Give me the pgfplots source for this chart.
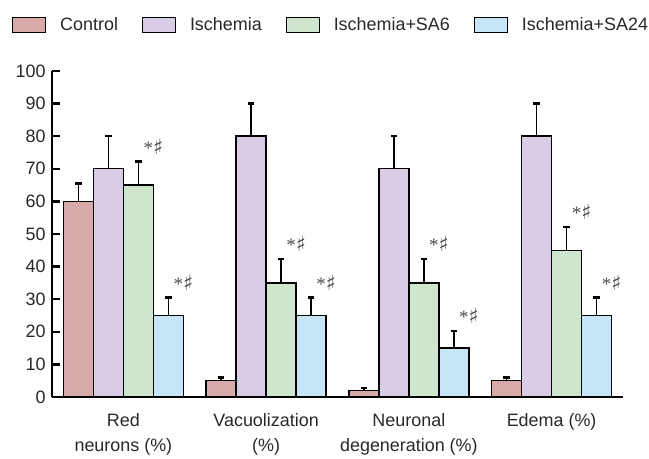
\documentclass[border=0pt]{standalone}
\usepackage{pgfplots}
\pgfplotsset{compat=1.18}
\usepackage{fontspec}
\setmainfont{Liberation Sans}
\newfontfamily\symfont{DejaVu Sans}
\newfontfamily\serfont{Liberation Serif}

\definecolor{cctrl}{RGB}{216,170,170}
\definecolor{cisch}{RGB}{216,204,230}
\definecolor{csa6}{RGB}{206,230,206}
\definecolor{csa24}{RGB}{198,230,247}
\definecolor{txt}{RGB}{40,40,40}

\pgfplotsset{
  boxleg/.style={legend image code/.code={%
      \draw[##1, line width=1bp] (0bp,-7.5bp) rectangle (33bp,7.5bp);}},
  errs/.style={error bars/.cd, y dir=plus, y explicit,
      error bar style={line width=1.5bp, black},
      error mark options={rotate=90, mark size=3.2bp, line width=2.6bp, black}},
}

\begin{document}
\begin{tikzpicture}
\begin{axis}[
  scale only axis,
  width=571bp, height=326bp,
  xmin=-0.5, xmax=3.5,
  ymin=0, ymax=100,
  ybar=0pt,
  bar width=0.21,
  axis lines=left,
  axis line style={-, line width=1.6bp, black},
  xtick={0,1,2,3},
  xticklabels={Red\\neurons (\%), Vacuolization\\(\%), Neuronal\\degeneration (\%), Edema (\%)},
  xticklabel style={align=center, font=\fontsize{18}{25}\selectfont, text=txt, yshift=-13bp},
  x tick style={draw=none},
  ytick={0,10,...,100},
  y tick style={line width=2.4bp, black},
  major tick length=8bp,
  tick align=inside,
  yticklabel style={font=\fontsize{18}{20}\selectfont, text=txt, xshift=-3bp},
  /pgf/number format/assume math mode=true,
  legend columns=4,
  legend style={at={(axis description cs:0,1)}, anchor=south west,
    xshift=-40bp, yshift=38bp, draw=none, fill=none, inner sep=0pt,
    font=\fontsize{18}{20}\selectfont, text=txt,
    nodes={inner sep=0pt},
    /tikz/every odd column/.append style={column sep=14bp},
    /tikz/every even column/.append style={column sep=24bp}},
  legend cell align=left,
]
\addplot[fill=cctrl, draw=black, line width=1.4bp, boxleg, errs] coordinates {
  (0,60) +- (0,5.5)
  (1,5) +- (0,1)
  (2,2) +- (0,0.8)
  (3,5) +- (0,1)
};
\addplot[fill=cisch, draw=black, line width=1.4bp, boxleg, errs] coordinates {
  (0,70) +- (0,10)
  (1,80) +- (0,10)
  (2,70) +- (0,10)
  (3,80) +- (0,10)
};
\addplot[fill=csa6, draw=black, line width=1.4bp, boxleg, errs] coordinates {
  (0,65) +- (0,7.3)
  (1,35) +- (0,7.3)
  (2,35) +- (0,7.3)
  (3,45) +- (0,7.2)
};
\addplot[fill=csa24, draw=black, line width=1.4bp, boxleg, errs] coordinates {
  (0,25) +- (0,5.5)
  (1,25) +- (0,5.5)
  (2,15) +- (0,5.3)
  (3,25) +- (0,5.5)
};
\legend{Control, Ischemia, Ischemia+SA6, Ischemia+SA24}
% significance marks above the error bars of SA6 and SA24
\addplot[forget plot, only marks, mark=none,
  nodes near coords={{\serfont\fontsize{19}{19}\selectfont*}{\symfont\fontsize{21}{21}\selectfont ♯}},
  every node near coord/.append style={anchor=south, yshift=6bp,
    inner sep=1bp, text=black!70}]
  coordinates {
  (0.105,72.3) (1.105,42.3) (2.105,42.3) (3.105,52.2)
  (0.315,30.5) (1.315,30.5) (2.315,20.3) (3.315,30.5)
};
\end{axis}
\path ([shift={(-52bp,-55bp)}]current axis.south west) rectangle ([shift={(26bp,71bp)}]current axis.north east);
\end{tikzpicture}
\end{document}
